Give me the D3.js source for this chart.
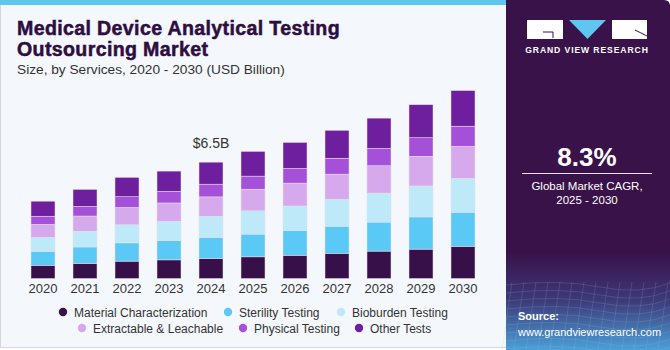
<!DOCTYPE html>
<html>
<head>
<meta charset="utf-8">
<script src="https://cdn.jsdelivr.net/npm/d3@7"></script>
<style>
  body { margin: 0; background: #ffffff; }
  svg { display: block; font-family: "Liberation Sans", Arial, sans-serif; }
</style>
</head>
<body>
<div id="chart"></div>
<script>
// values, USD billion
const years = ["2020", "2021", "2022", "2023", "2024", "2025", "2026", "2027", "2028", "2029", "2030"];
const material    = [0.74, 0.85, 0.97, 1.04, 1.12, 1.21, 1.30, 1.41, 1.53, 1.64, 1.80];
const sterility   = [0.78, 0.91, 1.02, 1.08, 1.17, 1.27, 1.38, 1.51, 1.62, 1.80, 1.90];
const bioburden   = [0.78, 0.88, 1.01, 1.08, 1.19, 1.30, 1.37, 1.51, 1.62, 1.73, 1.90];
const extractable = [0.73, 0.85, 0.97, 1.02, 1.08, 1.21, 1.28, 1.40, 1.53, 1.66, 1.79];
const physical    = [0.45, 0.54, 0.60, 0.65, 0.71, 0.73, 0.82, 0.89, 0.97, 1.04, 1.12];
const other       = [0.84, 0.95, 1.08, 1.13, 1.23, 1.38, 1.45, 1.56, 1.69, 1.84, 1.99];

const seriesNames = ["Material Characterization", "Sterility Testing", "Bioburden Testing",
                     "Extractable & Leachable", "Physical Testing", "Other Tests"];
const colors = ["#37104a", "#5bc9f6", "#bde9f9", "#d5a9ec", "#a550d8", "#6e1f9e"];

const W = 670, H = 350;
const svg = d3.select("#chart").append("svg").attr("width", W).attr("height", H);

// background panels
svg.append("rect").attr("x", 0).attr("y", 0).attr("width", W).attr("height", H).attr("fill", "#ffffff");
svg.append("rect").attr("x", 0.5).attr("y", 0.5).attr("width", 506).attr("height", H - 3)
  .attr("fill", "#f4f8fc").attr("stroke", "#d4d8dc");
svg.append("rect").attr("x", 0).attr("y", 0).attr("width", 506).attr("height", 5).attr("fill", "#5ec6ef");

// title
const title = svg.append("g").attr("fill", "#2e0d40").attr("stroke", "#2e0d40").attr("stroke-width", 0.5)
  .attr("font-weight", "bold").attr("font-size", 19.6).attr("letter-spacing", 0.35);
title.append("text").attr("x", 17).attr("y", 34.5).text("Medical Device Analytical Testing");
title.append("text").attr("x", 17).attr("y", 55.5).text("Outsourcing Market");
svg.append("text").attr("x", 17).attr("y", 74).attr("font-size", 13.7).attr("fill", "#333")
  .text("Size, by Services, 2020 - 2030 (USD Billion)");

// stacked bars
const table = years.map((yr, i) => ({
  year: yr,
  s0: material[i], s1: sterility[i], s2: bioburden[i],
  s3: extractable[i], s4: physical[i], s5: other[i]
}));
const keys = ["s0", "s1", "s2", "s3", "s4", "s5"];
const stacked = d3.stack().keys(keys)(table);

const x = d3.scaleBand().domain(years).range([22, 484])
  .paddingInner(18 / 42).paddingOuter(9 / 42);
const y = d3.scaleLinear().domain([0, 11]).range([278.5, 278.5 - 11 * 17.9]);

svg.append("g")
  .selectAll("g")
  .data(stacked)
  .join("g")
    .attr("fill", (d, i) => colors[i])
  .selectAll("rect")
  .data(d => d)
  .join("rect")
    .attr("x", d => x(d.data.year))
    .attr("y", d => y(d[1]))
    .attr("width", x.bandwidth())
    .attr("height", d => y(d[0]) - y(d[1]))
    .attr("stroke", "#e6e0ee")
    .attr("stroke-width", 0.5);

// x axis labels
const xAxis = svg.append("g").attr("transform", "translate(0,279)")
  .call(d3.axisBottom(x).tickSize(0).tickPadding(5));
xAxis.select(".domain").remove();
xAxis.selectAll("text").attr("font-size", 13).attr("fill", "#333")
  .attr("font-family", "Liberation Sans, Arial, sans-serif");

// annotation on 2024
const total2024 = d3.sum(keys, k => table[4][k]);
svg.append("text").attr("x", x("2024") + x.bandwidth() / 2).attr("y", y(total2024) - 14)
  .attr("text-anchor", "middle").attr("font-size", 14).attr("fill", "#333").text("$6.5B");

// legend
const legendPos = [[63, 312], [228, 312], [341, 312], [82, 328], [243, 328], [359, 328]];
const legend = svg.append("g");
seriesNames.forEach((name, i) => {
  const [lx, ly] = legendPos[i];
  legend.append("circle").attr("cx", lx).attr("cy", ly).attr("r", 4.2).attr("fill", colors[i]);
  legend.append("text").attr("x", lx + 11).attr("y", ly + 4.5).attr("font-size", 12)
    .attr("fill", "#333").text(name);
});

// right panel
const defs = svg.append("defs");
const grad = defs.append("linearGradient").attr("id", "pg").attr("x1", 0).attr("y1", 0).attr("x2", 0).attr("y2", 1);
grad.append("stop").attr("offset", "0%").attr("stop-color", "#381248");
grad.append("stop").attr("offset", "72%").attr("stop-color", "#381248");
grad.append("stop").attr("offset", "86%").attr("stop-color", "#3d3a78");
grad.append("stop").attr("offset", "100%").attr("stop-color", "#4aa0d8");
svg.append("path")
  .attr("d", `M506,0 H664 Q670,0 670,6 V${H} H506 Z`)
  .attr("fill", "url(#pg)");

// faint wireframe at the panel bottom
const wire = svg.append("g").attr("stroke", "#9fc6ea").attr("stroke-width", 0.5).attr("fill", "none").attr("opacity", 0.35);
d3.range(0, 9).forEach(i => {
  const yy = 285 + i * 8;
  wire.append("path").attr("d", `M506,${yy} Q560,${yy - 6} 600,${yy + 2} T670,${yy - 2}`);
});
d3.range(0, 14).forEach(i => {
  const xx = 506 + i * 12;
  wire.append("line").attr("x1", xx + 6).attr("y1", 282).attr("x2", xx - 4).attr("y2", H);
});

// logo
const logo = svg.append("g");
logo.append("rect").attr("x", 527).attr("y", 20).attr("width", 36).attr("height", 19).attr("fill", "#fff");
logo.append("path").attr("d", "M569,20 H606 L587.5,39 Z").attr("fill", "#5ec6ef");
logo.append("rect").attr("x", 612).attr("y", 20).attr("width", 35).attr("height", 19).attr("fill", "#fff");
logo.append("path").attr("d", "M543,32 H553 V38").attr("stroke", "#381248").attr("stroke-width", 1).attr("fill", "none");
logo.append("path").attr("d", "M635,30 L647,36").attr("stroke", "#381248").attr("stroke-width", 1);
logo.append("text").attr("x", 587).attr("y", 53).attr("text-anchor", "middle")
  .attr("font-size", 8.6).attr("font-weight", "bold").attr("letter-spacing", 0.9)
  .attr("fill", "#fff").text("GRAND VIEW RESEARCH");

svg.append("text").attr("x", 587).attr("y", 166).attr("text-anchor", "middle")
  .attr("font-size", 26).attr("font-weight", "bold").attr("fill", "#fff").text("8.3%");
svg.append("line").attr("x1", 522).attr("x2", 652).attr("y1", 173.5).attr("y2", 173.5)
  .attr("stroke", "#e8e0ee").attr("stroke-width", 1);
svg.append("text").attr("x", 587).attr("y", 190).attr("text-anchor", "middle")
  .attr("font-size", 11.5).attr("fill", "#fff").text("Global Market CAGR,");
svg.append("text").attr("x", 587).attr("y", 204).attr("text-anchor", "middle")
  .attr("font-size", 11.5).attr("fill", "#fff").text("2025 - 2030");

svg.append("text").attr("x", 518).attr("y", 320).attr("font-size", 11).attr("font-weight", "bold")
  .attr("fill", "#fff").text("Source:");
svg.append("text").attr("x", 518).attr("y", 336).attr("font-size", 11)
  .attr("fill", "#fff").text("www.grandviewresearch.com");
</script>
</body>
</html>
